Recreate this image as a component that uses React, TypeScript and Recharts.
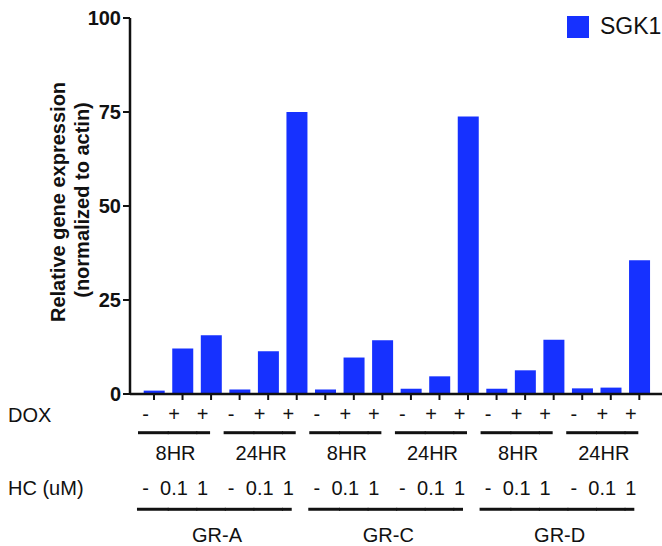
import React from 'react';
import { BarChart, Bar, XAxis, YAxis } from 'recharts';

const groups = ['GR-A', 'GR-C', 'GR-D'];
const times = ['8HR', '24HR'];
const doxSigns = ['-', '+', '+'];
const hcDoses = ['-', '0.1', '1'];
const sgk1 = [0.9, 12.1, 15.6, 1.2, 11.4, 75, 1.2, 9.7, 14.3, 1.4, 4.7, 73.8, 1.4, 6.3, 14.4, 1.5, 1.7, 35.6];
const yTicks = [0, 25, 50, 75, 100];

const data = sgk1.map((v, i) => ({
  id: `c${i}`,
  group: groups[Math.floor(i / 6)],
  time: times[Math.floor(i / 3) % 2],
  dox: doxSigns[i % 3],
  hc: hcDoses[i % 3],
  SGK1: v,
}));

const FONT = '"Liberation Sans", Arial, Helvetica, sans-serif';
const BLUE = '#1631FF';
const HALF = 14.3;
const SHIFT = -8.5;

const XTick = (props: any) => {
  const { x, payload } = props;
  const i = payload.index ?? props.index;
  const d = data[i];
  if (!d) return null;
  const cx = x + SHIFT;
  const pos3 = i % 3;
  const pos6 = i % 6;
  // time-group line segment
  let l1a = x - HALF - 0.5, l1b = x + HALF + 0.5;
  if (pos3 === 0) l1a = x - 16;
  if (pos3 === 2) l1b = x - 1;
  let l2a = x - HALF - 0.5, l2b = x + HALF + 0.5;
  if (pos6 === 0) l2a = x - 17;
  if (pos6 === 5) l2b = x - 5;
  const ts = { fontFamily: FONT, fontSize: 20, fill: '#111' };
  return (
    <g>
      {i === 0 && (
        <>
          <text x={8} y={415} dominantBaseline="central" textAnchor="start" {...ts}>DOX</text>
          <text x={8} y={488} dominantBaseline="central" textAnchor="start" {...ts}>HC (uM)</text>
        </>
      )}
      <text x={cx} y={414} dominantBaseline="central" textAnchor="middle" {...ts}>{d.dox}</text>
      <line x1={l1a} x2={l1b} y1={432.7} y2={432.7} stroke="#111" strokeWidth={3} />
      {pos3 === 1 && (
        <text x={x - 7} y={453} dominantBaseline="central" textAnchor="middle" {...ts}>{d.time}</text>
      )}
      <text x={cx} y={488} dominantBaseline="central" textAnchor="middle" {...ts}>{d.hc}</text>
      <line x1={l2a} x2={l2b} y1={509.3} y2={509.3} stroke="#111" strokeWidth={3} />
      {pos6 === 2 && (
        <text x={x + 6} y={535} dominantBaseline="central" textAnchor="middle" {...ts}>{d.group}</text>
      )}
    </g>
  );
};

const YLabel = () => (
  <g>
    <text x={58} y={202} transform="rotate(-90 58 202)" textAnchor="middle" dominantBaseline="central"
      style={{ fontFamily: FONT, fontSize: 20, fontWeight: 'bold', fill: '#111' }}>
      Relative gene expression
    </text>
    <text x={82} y={200} transform="rotate(-90 82 200)" textAnchor="middle" dominantBaseline="central"
      style={{ fontFamily: FONT, fontSize: 20, fontWeight: 'bold', fill: '#111' }}>
      (normalized to actin)
    </text>
  </g>
);

export default function App() {
  return (
    <div style={{ position: 'absolute', left: 0, top: 0, width: 662, height: 546, background: '#fff' }}>
      <BarChart width={662} height={546} data={data} margin={{ top: 18, right: 0, bottom: 0, left: 0 }}>
        <XAxis
          dataKey="id"
          interval={0}
          height={152}
          padding={{ left: 9.7, right: 8.4 }}
          tick={<XTick />}
          tickSize={6}
          tickMargin={0}
          axisLine={{ stroke: '#111', strokeWidth: 2.5 }}
          tickLine={{ stroke: '#111', strokeWidth: 2 }}
        />
        <YAxis
          domain={[0, 100]}
          ticks={yTicks}
          width={130}
          tickSize={7}
          tickMargin={2}
          axisLine={{ stroke: '#111', strokeWidth: 2.5 }}
          tickLine={{ stroke: '#111', strokeWidth: 2 }}
          tick={{ fontFamily: FONT, fontSize: 20, fontWeight: 'bold', fill: '#111' }}
          label={{ content: () => <YLabel /> }}
        />
        <Bar dataKey="SGK1" fill={BLUE} barSize={21} isAnimationActive={false} />
      </BarChart>
      <div style={{ position: 'absolute', left: 567, top: 13, display: 'flex', alignItems: 'center', fontFamily: FONT, fontSize: 23, color: '#111', whiteSpace: 'nowrap' }}>
        <div style={{ width: 22, height: 22, background: BLUE, marginRight: 11 }} />
        <span>SGK1</span>
      </div>
    </div>
  );
}
